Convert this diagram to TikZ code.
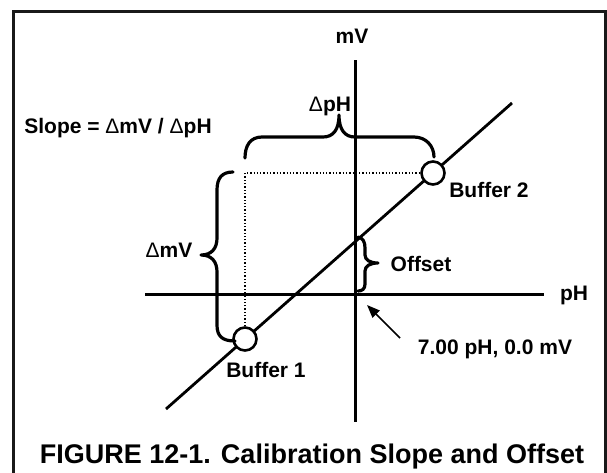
\documentclass[tikz,border=0pt]{standalone}
\usepackage{fontspec}
\setmainfont{Liberation Sans}
\usetikzlibrary{arrows.meta}
\newcommand{\mydelta}{{\mdseries Δ}}
\begin{document}
\begin{tikzpicture}[x=1pt,y=-1pt,
  lbl/.style={font=\fontsize{21}{24}\selectfont\bfseries, inner sep=0pt, anchor=base},
  capt/.style={font=\fontsize{27}{30}\selectfont\bfseries, inner sep=0pt, anchor=base},
  axisline/.style={line width=3pt},
  bracepath/.style={line width=3.2pt, line cap=round, line join=round},
  buf/.style={circle, draw, fill=white, line width=2.6pt, minimum size=23pt, inner sep=0pt},
  dots/.style={line width=1.3pt, dotted}]
\useasboundingbox (0,0) rectangle (607,472);
% frame
\draw[line width=3pt, black!90] (13,490) -- (13,11) -- (605,11) -- (605,490);
% axes
\coordinate (vtop) at (355,60);
\coordinate (vbot) at (355,422);
\coordinate (hleft) at (145,294);
\coordinate (hright) at (544,294);
\coordinate (o) at (355,294);
\draw[axisline] (vtop) -- (vbot);
\draw[axisline] (hleft) -- (hright);
\node[lbl] (mv) at (352,43) {mV};
\node[lbl] (ph) at (574,300) {pH};
% calibration line
\coordinate (d0) at (166,409);
\coordinate (d1) at (512,103);
\draw[line width=2.8pt] (d0) -- (d1);
% buffers
\node[buf] (b1) at (245,339) {};
\node[buf] (b2) at (433,173) {};
\draw[dots] (b1.north) |- (b2.west);
% delta pH brace
\draw[bracepath] (245,158) .. controls (245,146) and (250,137) .. (262,137) -- (323,137)
  .. controls (333,137) and (339,130) .. (339,115)
  .. controls (339,130) and (345,137) .. (355,137) -- (414,137)
  .. controls (426,137) and (434,146) .. (434,157);
% delta mV brace
\draw[bracepath] (233,172) .. controls (222,172) and (217,178) .. (217,190) -- (217,238)
  .. controls (217,248) and (212,255) .. (201,255)
  .. controls (212,255) and (217,262) .. (217,272) -- (217,325)
  .. controls (217,336) and (222,341) .. (235,341);
% offset brace
\draw[bracepath] (358,237) .. controls (363,238) and (365,242) .. (365,248) -- (365,255)
  .. controls (365,260) and (370,263) .. (378,263)
  .. controls (370,263) and (365,266) .. (365,271) -- (365,284)
  .. controls (365,289) and (362,291) .. (358,291);
% labels
\node[lbl] (slope) at (118,133) {Slope = \mydelta mV / \mydelta pH};
\node[lbl] (dph) at (330,111) {\mydelta pH};
\node[lbl] (dmv) at (169,257) {\mydelta mV};
\node[lbl] (off) at (421,271) {Offset};
\node[lbl] (l2) at (489,197) {Buffer 2};
\node[lbl] (l1) at (266,377) {Buffer 1};
\node[lbl] (orig) at (495,354) {7.00 pH, 0.0 mV};
% arrow to origin
\coordinate (atail) at (400,338);
\coordinate (atip) at (367,305);
\draw[line width=1.6pt, -{Triangle[length=13pt,width=10pt]}] (atail) -- (atip);
% caption
\node[capt] (cap) at (312,463) {FIGURE 12-1. Calibration Slope and Offset};
\end{tikzpicture}
\end{document}
